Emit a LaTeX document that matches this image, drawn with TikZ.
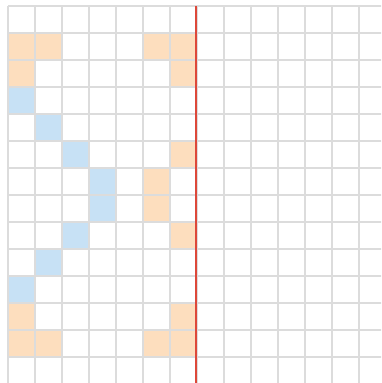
\documentclass[tikz,border=0pt]{standalone}
\definecolor{cellor}{RGB}{253,222,190}
\definecolor{cellbl}{RGB}{199,225,245}
\definecolor{gridc}{RGB}{220,220,220}
\definecolor{redl}{RGB}{221,72,58}
\tikzset{
  orcell/.style={fill=cellor},
  blcell/.style={fill=cellbl},
  gridline/.style={draw=gridc,line width=1.3pt},
  redline/.style={draw=redl,line width=2.4pt}
}
\begin{document}
\begin{tikzpicture}[x=1pt,y=-1pt]
\useasboundingbox (0,0) rectangle (381,383);
\begin{scope}
\clip (0,0) rectangle (381,383);
\fill[white] (0,0) rectangle (381,383);
% orange cells: (col,row)
\foreach \c/\r in {0/1,1/1,5/1,6/1,0/2,6/2,6/5,5/6,5/7,6/8,0/11,6/11,0/12,1/12,5/12,6/12}
  \path[orcell] (8+27*\c,6+27*\r) rectangle ++(27,27);
% blue cells
\foreach \c/\r in {0/3,1/4,2/5,3/6,3/7,2/8,1/9,0/10}
  \path[blcell] (8+27*\c,6+27*\r) rectangle ++(27,27);
% grid
\foreach \i in {0,...,14}
  \draw[gridline] (8+27*\i,6) -- (8+27*\i,400);
\foreach \j in {0,...,14}
  \draw[gridline] (8,6+27*\j) -- (400,6+27*\j);
% red line
\draw[redline] (196,6) -- (196,400);
\end{scope}
\end{tikzpicture}
\end{document}
